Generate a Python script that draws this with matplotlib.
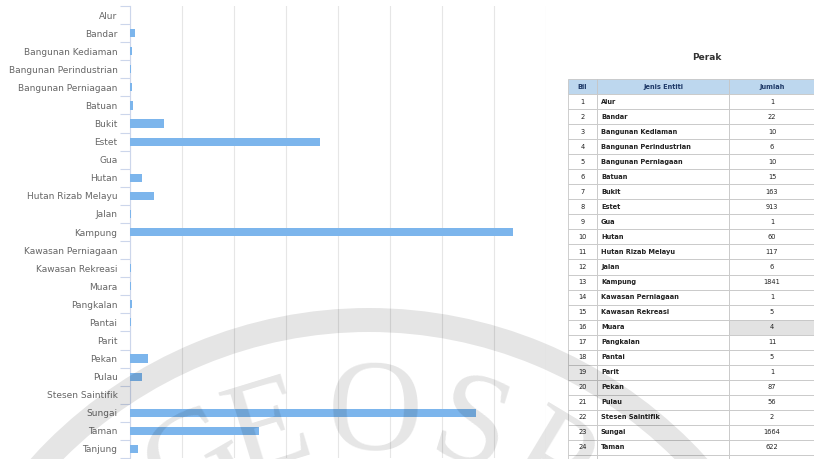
import numpy as np
import matplotlib
matplotlib.use("Agg")
import matplotlib.pyplot as plt
from matplotlib.patches import Wedge

categories = ["Alur", "Bandar", "Bangunan Kediaman", "Bangunan Perindustrian",
              "Bangunan Perniagaan", "Batuan", "Bukit", "Estet", "Gua", "Hutan",
              "Hutan Rizab Melayu", "Jalan", "Kampung", "Kawasan Perniagaan",
              "Kawasan Rekreasi", "Muara", "Pangkalan", "Pantai", "Parit", "Pekan",
              "Pulau", "Stesen Saintifik", "Sungai", "Taman", "Tanjung"]
jumlah = [1, 22, 10, 6, 10, 15, 163, 913, 1, 60, 117, 6, 1841, 1, 5, 4, 11, 5, 1,
          87, 56, 2, 1664, 622, 40]
x_ticks = [0, 250, 500, 750, 1000, 1250, 1500, 1750, 2000]
table_title = "Perak"
table_header = ["Bil", "Jenis Entiti", "Jumlah"]
watermark = "GEOSP"

W, H = 814, 459
fig = plt.figure(figsize=(W / 100, H / 100), dpi=100)


def px_box(x0, y0, x1, y1):
    return [x0 / W, 1 - y1 / H, (x1 - x0) / W, (y1 - y0) / H]


# bar chart
ax = fig.add_axes(px_box(130, 6, 546, 458))
ypos = np.arange(len(categories))
ax.barh(ypos, jumlah, height=0.45, color="#7cb5ec", zorder=3)
ax.set_xlim(0, 2000)
ax.set_ylim(len(categories) - 0.5, -0.5)
ax.set_xticks(x_ticks)
ax.tick_params(axis="x", length=0, labelbottom=False)
ax.grid(axis="x", color="#e6e6e6", linewidth=0.8)
ax.set_axisbelow(True)
ax.set_yticks(ypos)
ax.set_yticklabels(categories, fontsize=6.5, color="#666666")
ax.tick_params(axis="y", length=0, pad=9)
ax.set_yticks(np.arange(len(categories) + 1) - 0.5, minor=True)
ax.tick_params(axis="y", which="minor", length=7, color="#ccd6eb", width=0.8)
for s in ["top", "right", "bottom"]:
    ax.spines[s].set_visible(False)
ax.spines["left"].set_color("#ccd6eb")

# overlay for title, table and watermark
ov = fig.add_axes([0, 0, 1, 1])
ov.set_xlim(0, W)
ov.set_ylim(H, 0)
ov.axis("off")
ov.patch.set_visible(False)

ov.text(707, 58, table_title, ha="center", va="center", fontsize=6.5,
        fontweight="bold", color="#333333")

row_h = 15.04
n_rows = len(categories) + 1
rows = [[str(i + 1), c, str(v)] for i, (c, v) in enumerate(zip(categories, jumlah))]
tbl = ov.table(cellText=rows, colLabels=table_header,
               colWidths=[29, 132, 86], cellLoc="center",
               bbox=[568 / W, 1 - (79 + n_rows * row_h) / H, 247 / W, n_rows * row_h / H])
tbl.auto_set_font_size(False)
for (r, c), cell in tbl.get_celld().items():
    cell.set_edgecolor("#c6c6c6")
    cell.set_linewidth(0.6)
    txt = cell.get_text()
    txt.set_fontsize(4.8)
    if r == 0:
        cell.set_facecolor("#bdd7ee")
        txt.set_color("#1f3a68")
        txt.set_fontweight("bold")
    else:
        txt.set_color("#222222")
        if c == 1:
            txt.set_ha("left")
            cell.PAD = 0.03
            txt.set_fontweight("bold")
        if c == 2 and categories[r - 1] == "Muara":
            cell.set_facecolor("#e2e2e2")

# faint watermark
cx, cy = 369, 763
ov.add_patch(Wedge((cx, cy), 455, 0, 360, width=24, facecolor="black",
                   edgecolor="none", alpha=0.1, zorder=10))
for letter, ang in zip(watermark, [-30, -17, 1, 17, 31]):
    r = 405
    x = cx + r * np.sin(np.radians(ang))
    y = cy - r * np.cos(np.radians(ang))
    ov.text(x, y, letter, rotation=-ang, rotation_mode="anchor", ha="center",
            va="top", fontsize=95, family="Liberation Serif", color="black",
            alpha=0.1, zorder=10)

fig.savefig("out.png", dpi=100)
